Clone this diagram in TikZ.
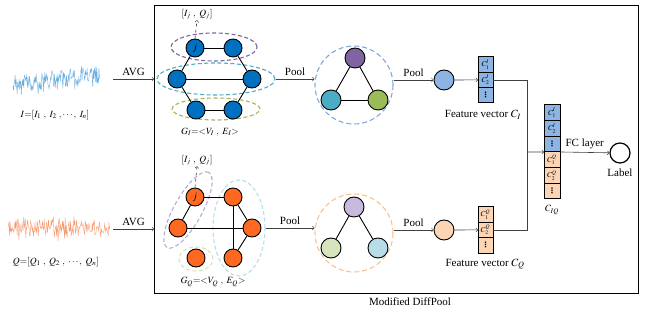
\documentclass[tikz,border=0pt]{standalone}
\usepackage{mathptmx}
\usepackage{fontspec}
\setmainfont{Liberation Serif}
\newfontfamily\symfont{DejaVu Sans}
\usetikzlibrary{shapes.geometric, arrows, positioning}
\definecolor{gblue}{HTML}{0070C0}
\definecolor{gorange}{HTML}{FF6820}
\definecolor{opurple}{HTML}{8064A2}
\definecolor{oteal}{HTML}{4BACC6}
\definecolor{ogreen}{HTML}{9BBB59}
\definecolor{lpurple}{HTML}{B9A9D4}
\definecolor{lteal}{HTML}{B7DEE8}
\definecolor{lgreen}{HTML}{D7E4BD}
\definecolor{fblue}{HTML}{8DB4E2}
\definecolor{fpeach}{HTML}{FCD5B5}
\definecolor{ringblue}{HTML}{7FA9DE}
\definecolor{ringpeach}{HTML}{FAC090}
\definecolor{sigblue}{HTML}{6AAEE0}
\definecolor{sigorange}{HTML}{F79A70}
\newcommand{\celldots}{{\symfont\bfseries ⋮}}
\newcommand{\cI}[1]{$C_{#1}^{I\vphantom{Q}}$}
\tikzset{
    gnode/.style = {circle, draw=black, line width=0.9pt, minimum size=18pt,
                    inner sep=0pt, font=\fontsize{10}{10}\selectfont},
    pnode/.style = {circle, draw=black, line width=0.9pt, minimum size=20pt, inner sep=0pt},
    edge/.style = {line width=0.9pt, draw=black},
    group/.style = {ellipse, line width=1.1pt, dash pattern=on 4pt off 2.5pt, inner sep=0pt},
    ring/.style = {circle, line width=1.1pt, dash pattern=on 5pt off 3pt,
                   minimum size=78pt, inner sep=0pt},
    cell/.style = {rectangle, draw=black, line width=1pt, minimum width=15pt,
                   minimum height=15.4pt, inner sep=0pt, outer sep=0pt,
                   font=\fontsize{7.5}{7.5}\selectfont},
    arrow/.style = {line width=0.6pt, ->, draw=black!75},
    lbl/.style = {inner sep=1pt, font=\fontsize{9.5}{11}\selectfont},
}

\begin{document}
\begin{tikzpicture}[x=1pt, y=-1pt, font=\fontsize{11}{13}\selectfont]
\useasboundingbox (0,0) rectangle (650,315);

% Input signals
\pgfmathsetseed{11}
\draw[sigblue, line width=0.4pt] plot[domain=13:100, samples=170]
    (\x, {80 - 0.1*(\x-56) + 9*rand + 13*rand*rand*rand});
\draw[sigorange, line width=0.4pt] plot[domain=8:110, samples=190]
    (\x, {228 + 8*rand + 13*rand*rand*rand});
\node (sigIlbl) [lbl] at (55,115) {$I{=}[I_1\ ,\ I_2\ ,\cdots ,\ I_n]$};
\node (sigQlbl) [lbl] at (56,262) {$Q{=}[Q_1\ ,\ Q_2\ ,\ \cdots ,\ Q_n]$};
\coordinate (sigI) at (113,79);
\coordinate (sigQ) at (113,229);

% Modified DiffPool frame
\node (box) [draw, line width=1.2pt, minimum width=484pt, minimum height=288pt,
             anchor=north west, inner sep=0pt] at (154,5) {};
\node (mdp) at (410,302) {Modified DiffPool};

% Graph G_I
\node (gi1) [group, draw=opurple, minimum width=86pt, minimum height=28pt] at (214,47) {};
\node (gi2) [group, draw=oteal, minimum width=118pt, minimum height=32pt] at (216,79) {};
\node (gi3) [group, draw=ogreen, minimum width=88pt, minimum height=22pt] at (216,109) {};
\node (i1) [gnode, fill=gblue] at (195,48) {$j$};
\node (i2) [gnode, fill=gblue] at (233,48) {};
\node (i3) [gnode, fill=gblue] at (177,79) {};
\node (i4) [gnode, fill=gblue] at (252,79) {};
\node (i5) [gnode, fill=gblue] at (196,110) {};
\node (i6) [gnode, fill=gblue] at (233,110) {};
\draw[edge] (i1) -- (i2);
\draw[edge] (i1) -- (i3);
\draw[edge] (i2) -- (i4);
\draw[edge] (i3) -- (i4);
\draw[edge] (i3) -- (i5);
\draw[edge] (i4) -- (i6);
\draw[edge] (i5) -- (i6);
\node (ijI) [lbl] at (197,14) {$[I_j\ ,\ Q_j]$};
\node (gIlbl) [lbl] at (210,132) {$G_I{=}{<}V_I\ ,\ E_I{>}$};

% Graph G_Q
\node (gq1) [group, draw=lpurple, minimum width=86pt, minimum height=28pt, rotate=61] at (188,210) {};
\node (gq2) [group, draw=lteal, minimum width=52pt, minimum height=96pt] at (239,228) {};
\node (gq3) [group, draw=lgreen, minimum width=34pt, minimum height=24pt] at (196,259) {};
\node (q1) [gnode, fill=gorange] at (195,197) {$j$};
\node (q2) [gnode, fill=gorange] at (233,197) {};
\node (q3) [gnode, fill=gorange] at (178,228) {};
\node (q4) [gnode, fill=gorange] at (252,228) {};
\node (q5) [gnode, fill=gorange] at (196,258) {};
\node (q6) [gnode, fill=gorange] at (233,258) {};
\draw[edge] (q1) -- (q2);
\draw[edge] (q1) -- (q3);
\draw[edge] (q2) -- (q4);
\draw[edge] (q3) -- (q4);
\draw[edge] (q2) -- (q6);
\draw[edge] (q4) -- (q6);
\node (ijQ) [lbl] at (197,160) {$[I_j\ ,\ Q_j]$};
\node (gQlbl) [lbl] at (213,282) {$G_Q{=}{<}V_Q\ ,\ E_Q{>}$};

% Pooled graphs
\node (poolI) [ring, draw=ringblue] at (354,85) {};
\node (pa) [pnode, fill=opurple] at (355,58) {};
\node (pb) [pnode, fill=oteal] at (331,100) {};
\node (pc) [pnode, fill=ogreen] at (378,100) {};
\draw[edge] (pa) -- (pb);
\draw[edge] (pa) -- (pc);
\draw[edge] (pb) -- (pc);
\node (poolQ) [ring, draw=ringpeach] at (354,233) {};
\node (qa) [pnode, fill=lpurple!80] at (354,207) {};
\node (qb) [pnode, fill=lgreen] at (331,248) {};
\node (qc) [pnode, fill=lteal] at (378,248) {};
\draw[edge] (qa) -- (qb);
\draw[edge] (qa) -- (qc);
\node (ci) [pnode, fill=fblue] at (444,80) {};
\node (cq) [pnode, fill=fpeach] at (444,230) {};

% Feature vectors
\node (vi1) [cell, fill=fblue] at (485.5,64.5) {\cI{1}};
\node (vi2) [cell, fill=fblue, below=0pt of vi1] {\cI{2}};
\node (vi3) [cell, fill=fblue, below=0pt of vi2] {\celldots};
\node (viLbl) at (483,115) {Feature vector $C_I$};
\node (vq1) [cell, fill=fpeach] at (485.5,214.5) {$C_1^Q$};
\node (vq2) [cell, fill=fpeach, below=0pt of vq1] {$C_2^Q$};
\node (vq3) [cell, fill=fpeach, below=0pt of vq2] {\celldots};
\node (vqLbl) at (485,264) {Feature vector $C_Q$};
\node (iq1) [cell, fill=fblue, minimum width=16pt, minimum height=15.67pt] at (552,112.8) {\cI{1}};
\node (iq2) [cell, fill=fblue, minimum width=16pt, minimum height=15.67pt, below=0pt of iq1] {\cI{2}};
\node (iq3) [cell, fill=fblue, minimum width=16pt, minimum height=15.67pt, below=0pt of iq2] {\celldots};
\node (iq4) [cell, fill=fpeach, minimum width=16pt, minimum height=15.67pt, below=0pt of iq3] {$C_1^Q$};
\node (iq5) [cell, fill=fpeach, minimum width=16pt, minimum height=15.67pt, below=0pt of iq4] {$C_2^Q$};
\node (iq6) [cell, fill=fpeach, minimum width=16pt, minimum height=15.67pt, below=0pt of iq5] {\celldots};
\node (iqLbl) [lbl] at (552,210) {$C_{IQ}$};
\node (lab) [circle, draw=black, line width=1.2pt, minimum size=20pt, inner sep=0pt] at (620,153) {};
\node (labLbl) at (620,173) {Label};
\coordinate (join) at (527,152);

% Arrows
\draw[arrow] (sigI) -- node[above] {AVG} (sigI -| box.west);
\draw[arrow] (sigQ) -- node[above] {AVG} (sigQ -| box.west);
\draw[arrow, dashed] (i1.north) -- (ijI.south);
\draw[arrow, dashed] (q1.north) -- (ijQ.south);
\draw[arrow] (gi2.east) -- node[above] {Pool} (gi2.east -| poolI.west);
\draw[arrow] (gq2.east) -- node[above] {Pool} (gq2.east -| poolQ.west);
\draw[arrow] (poolI.east |- ci) -- node[above] {Pool} (ci);
\draw[arrow] (poolQ.east |- cq) -- node[above] {Pool} (cq);
\draw[arrow] (ci) -- (vi2);
\draw[arrow] (cq) -- (vq2);
\draw[line width=0.6pt, draw=black!75] (vi2.east) -| (join);
\draw[line width=0.6pt, draw=black!75] (vq2.east) -| (join);
\draw[arrow] (join) -- (iq3.south west);
\draw[arrow] (iq3.south east) -- node[above] {FC layer} (lab);
\end{tikzpicture}
\end{document}
